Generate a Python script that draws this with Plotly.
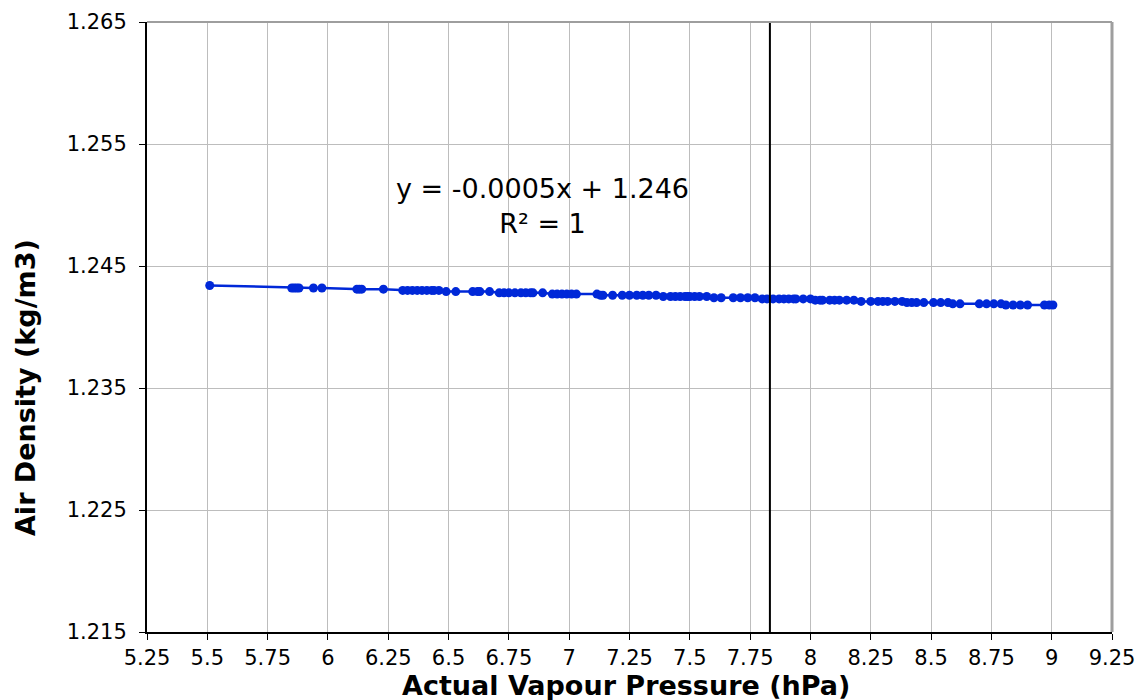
import plotly.graph_objects as go

# Actual vapour pressure (hPa)
vapour_pressure = [
    5.51, 5.85, 5.86, 5.87, 5.88, 5.94, 5.975, 6.12, 6.13, 6.14, 6.23,
    6.31, 6.33, 6.35, 6.37, 6.39, 6.41, 6.43, 6.44, 6.46, 6.49, 6.53,
    6.60, 6.62, 6.63, 6.67, 6.71, 6.73, 6.75, 6.775, 6.80, 6.82, 6.84, 6.85,
    6.89, 6.93, 6.95, 6.97, 6.99, 7.01, 7.03, 7.115, 7.13, 7.14, 7.18,
    7.22, 7.25, 7.28, 7.305, 7.33, 7.36, 7.39, 7.42, 7.44, 7.46, 7.48, 7.49,
    7.50, 7.52, 7.54, 7.57, 7.60, 7.63, 7.68, 7.71, 7.74, 7.77, 7.80, 7.82,
    7.845, 7.87, 7.89, 7.91, 7.93, 7.94, 7.97, 8.00, 8.02, 8.04,
    8.05, 8.08, 8.10, 8.12, 8.15, 8.18, 8.21, 8.25, 8.28, 8.30, 8.32, 8.35,
    8.38, 8.40, 8.42, 8.44, 8.47, 8.51, 8.54, 8.57, 8.59, 8.62,
    8.70, 8.73, 8.76, 8.79, 8.81, 8.84, 8.87, 8.90, 8.97, 8.99, 9.005,
]

# Air density (kg/m3)
air_density = [
    1.2434, 1.2432, 1.2432, 1.2432, 1.2432, 1.2432, 1.2432, 1.2431, 1.2431, 1.2431, 1.2431,
    1.2430, 1.2430, 1.2430, 1.2430, 1.2430, 1.2430, 1.2430, 1.2430, 1.2430, 1.2429, 1.2429,
    1.2429, 1.2429, 1.2429, 1.2429, 1.2428, 1.2428, 1.2428, 1.2428, 1.2428, 1.2428, 1.2428, 1.2428,
    1.2428, 1.2427, 1.2427, 1.2427, 1.2427, 1.2427, 1.2427, 1.2427, 1.2426, 1.2426, 1.2426,
    1.2426, 1.2426, 1.2426, 1.2426, 1.2426, 1.2426, 1.2425, 1.2425, 1.2425, 1.2425, 1.2425, 1.2425,
    1.2425, 1.2425, 1.2425, 1.2425, 1.2424, 1.2424, 1.2424, 1.2424, 1.2424, 1.2424, 1.2423, 1.2423,
    1.2423, 1.2423, 1.2423, 1.2423, 1.2423, 1.2423, 1.2423, 1.2423, 1.2422, 1.2422,
    1.2422, 1.2422, 1.2422, 1.2422, 1.2422, 1.2422, 1.2421, 1.2421, 1.2421, 1.2421, 1.2421, 1.2421,
    1.2421, 1.2420, 1.2420, 1.2420, 1.2420, 1.2420, 1.2420, 1.2420, 1.2419, 1.2419,
    1.2419, 1.2419, 1.2419, 1.2419, 1.2418, 1.2418, 1.2418, 1.2418, 1.2418, 1.2418, 1.2418,
]

marker_line_x = 7.832

x_ticks = [5.25, 5.5, 5.75, 6, 6.25, 6.5, 6.75, 7, 7.25, 7.5, 7.75, 8, 8.25, 8.5, 8.75, 9, 9.25]
x_tick_text = ["5.25", "5.5", "5.75", "6", "6.25", "6.5", "6.75", "7", "7.25", "7.5",
               "7.75", "8", "8.25", "8.5", "8.75", "9", "9.25"]
y_ticks = [1.215, 1.225, 1.235, 1.245, 1.255, 1.265]
y_tick_text = ["1.215", "1.225", "1.235", "1.245", "1.255", "1.265"]

FONT = "DejaVu Sans, Verdana, sans-serif"

fig = go.Figure()
fig.add_trace(go.Scatter(
    x=vapour_pressure, y=air_density, mode="lines+markers",
    line=dict(color="#0028D8", width=2.5),
    marker=dict(color="#0028D8", size=9),
    showlegend=False, cliponaxis=False,
))

fig.add_shape(type="line", xref="x", yref="paper", x0=marker_line_x, x1=marker_line_x,
              y0=0, y1=1, line=dict(color="black", width=2))

fig.add_annotation(x=6.89, y=1.2499, xref="x", yref="y",
                   text="y = -0.0005x + 1.246<br>R² = 1", showarrow=False,
                   font=dict(family=FONT, size=27, color="black"),
                   align="center", xanchor="center", yanchor="middle")

# axis titles
fig.add_annotation(x=0.4964, y=-0.0885, xref="paper", yref="paper",
                   text="<b>Actual Vapour Pressure (hPa)</b>", showarrow=False,
                   font=dict(family=FONT, size=27, color="black"),
                   xanchor="center", yanchor="middle")
fig.add_annotation(x=-0.1264, y=0.40, xref="paper", yref="paper",
                   text="<b>Air Density (kg/m3)</b>", showarrow=False, textangle=-90,
                   font=dict(family=FONT, size=27, color="black"),
                   xanchor="center", yanchor="middle")

fig.update_layout(
    width=1138, height=700,
    margin=dict(l=147, r=26, t=22, b=68),
    paper_bgcolor="white", plot_bgcolor="white",
    font=dict(family=FONT, size=21, color="black"),
    xaxis=dict(
        range=[5.25, 9.25], tickvals=x_ticks, ticktext=x_tick_text,
        tickfont=dict(size=21),
        showgrid=True, gridcolor="#BDBDBD", gridwidth=1,
        showline=True, linecolor="black", linewidth=2, mirror=False,
        ticks="outside", ticklen=6, tickcolor="black",
        zeroline=False, automargin=False,
    ),
    yaxis=dict(
        range=[1.215, 1.265], tickvals=y_ticks, ticktext=y_tick_text,
        tickfont=dict(size=21), ticklabelstandoff=8,
        showgrid=True, gridcolor="#BDBDBD", gridwidth=1,
        showline=True, linecolor="black", linewidth=2,
        ticks="outside", ticklen=6, tickcolor="black",
        zeroline=False, automargin=False,
    ),
)

# gray top and right border lines
fig.add_shape(type="line", xref="paper", yref="paper", x0=0, x1=1, y0=1, y1=1,
              line=dict(color="#9E9E9E", width=2))
fig.add_shape(type="line", xref="paper", yref="paper", x0=1, x1=1, y0=0, y1=1,
              line=dict(color="#9E9E9E", width=3))

fig.write_html("out.html")
